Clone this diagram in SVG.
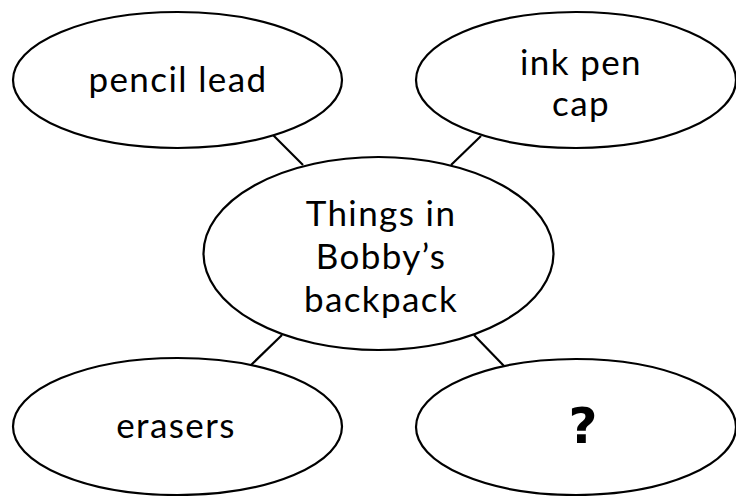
<svg xmlns="http://www.w3.org/2000/svg" width="736" height="496" viewBox="0 0 736 496">
<style>
.n{fill:#fff;stroke:#000;stroke-width:2.2}
.t{font-family:Lato,"Open Sans","DejaVu Sans",sans-serif;font-size:35px;letter-spacing:1.4px;fill:#000;text-anchor:middle}
.q{font-family:"DejaVu Sans","Liberation Sans",sans-serif;font-weight:bold;font-size:50px;fill:#000;text-anchor:middle}
.c{stroke:#000;stroke-width:2.2;fill:none}
</style>
<rect width="736" height="496" fill="#fff"/>
<g id="connectors">
<line class="c" x1="273" y1="135" x2="303" y2="165"/>
<line class="c" x1="481" y1="136" x2="451" y2="165"/>
<line class="c" x1="282" y1="335" x2="251" y2="365"/>
<line class="c" x1="474" y1="335" x2="504" y2="366"/>
</g>
<g id="node-pencil-lead">
<ellipse class="n" cx="177.5" cy="80" rx="164.5" ry="68"/>
<text class="t" x="178" y="92">pencil lead</text>
</g>
<g id="node-ink-pen-cap">
<ellipse class="n" cx="576" cy="80" rx="160" ry="68"/>
<text class="t" x="581" y="75">ink pen</text>
<text class="t" x="581" y="116">cap</text>
</g>
<g id="node-center">
<ellipse class="n" cx="378.5" cy="253.5" rx="175" ry="96.5"/>
<text class="t" x="381" y="226">Things in</text>
<text class="t" x="381" y="269">Bobby’s</text>
<text class="t" x="381" y="312">backpack</text>
</g>
<g id="node-erasers">
<ellipse class="n" cx="177.5" cy="426.5" rx="164.5" ry="68.5"/>
<text class="t" x="176" y="438">erasers</text>
</g>
<g id="node-question">
<ellipse class="n" cx="576" cy="427" rx="160" ry="68"/>
<text class="q" x="583" y="443">?</text>
</g>
</svg>
